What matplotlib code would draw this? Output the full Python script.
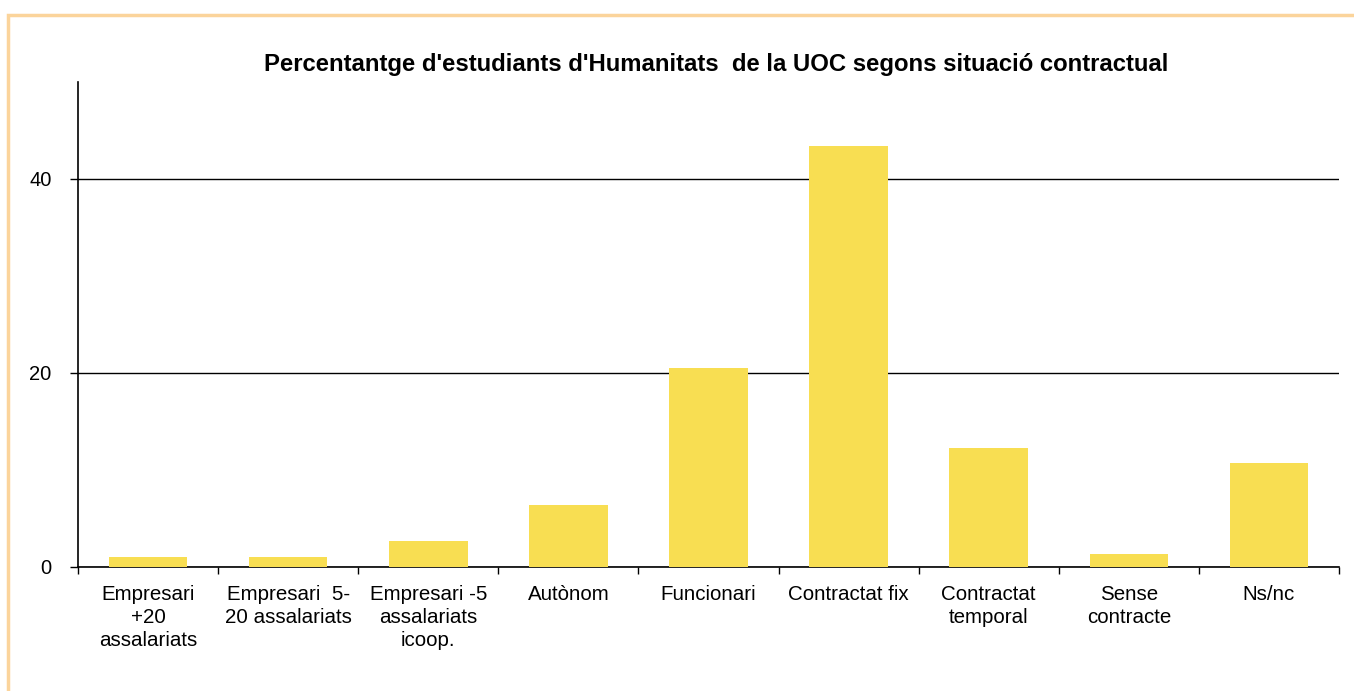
import matplotlib
matplotlib.use("Agg")
import matplotlib.pyplot as plt
from matplotlib.patches import Rectangle
import numpy as np

categories = ["Empresari\n+20\nassalariats", "Empresari  5-\n20 assalariats",
              "Empresari -5\nassalariats\nicoop.", "Autònom", "Funcionari",
              "Contractat fix", "Contractat\ntemporal", "Sense\ncontracte", "Ns/nc"]
values = [1.0, 1.0, 2.6, 6.3, 20.5, 43.4, 12.2, 1.3, 10.7]
yticks = [0, 20, 40]
title = "Percentantge d'estudiants d'Humanitats  de la UOC segons situació contractual"

plt.rcParams['font.family'] = ['Liberation Sans', 'DejaVu Sans']

W, H = 1354, 691
fig = plt.figure(figsize=(W/100, H/100), dpi=100)
fig.patches.append(Rectangle((8/W, -0.1), 1.2, (H-15)/H + 0.1, transform=fig.transFigure,
                             fill=False, edgecolor='#FBD49B', linewidth=2.5))

left, right, bottom, top = 78, 1339, 566.5, 82
ax = fig.add_axes([left/W, (H-bottom)/H, (right-left)/W, (bottom-top)/H])
x = np.arange(len(categories))
ax.bar(x, values, width=0.56, color='#F8DE52', zorder=3)
ax.set_xlim(-0.5, len(categories)-0.5)
ax.set_ylim(0, 50)
ax.set_yticks(yticks)
ax.set_yticklabels([str(v) for v in yticks], fontsize=14.5)
ax.yaxis.grid(True, color='black', linewidth=1, zorder=0)
ax.set_axisbelow(True)
ax.tick_params(axis='y', length=6, width=1, pad=13, color='black')
ax.set_xticks(x)
ax.set_xticklabels(categories, fontsize=14.8, linespacing=1.27)
ax.tick_params(axis='x', length=0, pad=13)
ax.set_xticks(np.arange(len(categories)+1)-0.5, minor=True)
ax.tick_params(axis='x', which='minor', length=5, width=1, color='black')
for s in ['top', 'right']:
    ax.spines[s].set_visible(False)
for s in ['left', 'bottom']:
    ax.spines[s].set_linewidth(1.2)
fig.text(716/W, 1-64/H, title, ha='center', va='center', fontsize=17.2, fontweight='bold')
fig.savefig("out.png", dpi=100)
